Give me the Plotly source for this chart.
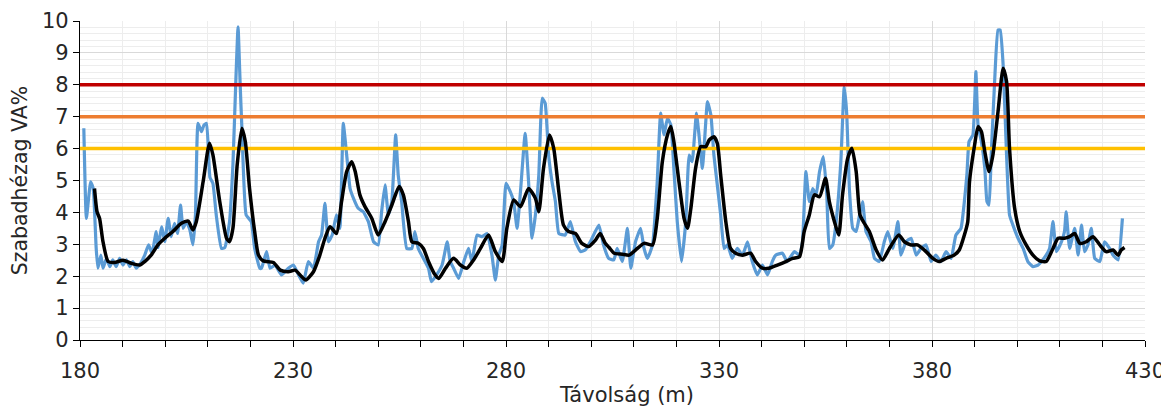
import plotly.graph_objects as go

# Blue (measured) series: distance (m) and clearance (VA%)
blue_x = [180.9, 181.5, 182.5, 183.1, 183.8, 184.2, 184.9, 185.4, 186.2, 187.0, 187.7, 188.5, 189.3, 190.1,
          190.9, 191.7, 192.4, 193.2, 194.2, 195.2, 196.1, 196.9, 197.9, 198.3, 199.2, 199.9, 200.7, 201.4,
          202.2, 202.9, 203.6, 204.2, 205.0, 205.8, 206.5, 207.1, 207.7, 208.5, 209.1, 209.7, 210.5, 211.2,
          212.0, 213.2, 214.0, 215.1, 215.9, 216.6, 217.1, 217.6, 218.0, 219.0, 220.2, 221.0, 222.2, 222.6,
          223.8, 224.6, 225.8, 227.3, 228.9, 230.1, 231.3, 232.4, 233.6, 234.8, 236.0, 236.7, 237.5, 238.3,
          239.2, 240.2, 241.0, 241.8, 242.6, 243.4, 244.2, 245.3, 246.5, 247.7, 248.9, 250.0, 250.8, 251.6,
          252.4, 253.2, 254.1, 254.7, 255.5, 256.7, 257.9, 258.6, 259.4, 260.6, 261.8, 262.5, 263.7, 265.0,
          266.2, 266.9, 267.7, 268.9, 270.1, 271.2, 272.0, 273.2, 274.4, 275.5, 276.7, 277.5, 278.3, 279.1,
          280.0, 281.0, 281.8, 282.6, 283.4, 284.5, 285.3, 286.1, 286.9, 287.7, 288.5, 289.2, 290.0, 290.8,
          291.6, 292.4, 293.9, 295.1, 296.3, 297.5, 298.6, 299.8, 301.8, 302.9, 304.1, 305.3, 306.1, 307.3,
          308.5, 309.3, 310.4, 311.6, 312.4, 313.2, 314.4, 315.5, 316.3, 317.1, 317.9, 318.7, 319.4, 320.2,
          321.2, 322.2, 323.0, 323.7, 324.7, 325.3, 326.1, 326.5, 327.3, 328.1, 328.8, 329.6, 330.4, 331.2,
          332.0, 333.1, 334.3, 335.5, 336.7, 337.8, 339.0, 340.2, 341.4, 342.5, 343.3, 344.9, 346.0, 347.7,
          348.9, 349.6, 350.4, 351.2, 352.0, 352.8, 353.6, 354.5, 355.3, 355.9, 356.7, 357.5, 358.6, 359.4,
          360.0, 360.6, 361.4, 362.2, 363.0, 363.7, 364.5, 365.7, 366.5, 367.6, 368.8, 369.6, 370.8, 372.0,
          372.7, 373.9, 375.1, 376.3, 377.4, 378.6, 379.8, 380.9, 382.1, 383.3, 384.5, 385.6, 386.8, 387.6,
          388.2, 388.7, 389.6, 390.3, 390.8, 391.6, 392.4, 392.9, 393.4, 393.9, 394.7, 395.5, 396.0, 396.7,
          397.5, 398.2, 399.0, 400.2, 401.4, 402.5, 403.7, 404.9, 405.7, 406.8, 407.6, 408.4, 409.2, 410.4,
          411.1, 411.5, 412.3, 413.5, 414.3, 415.1, 415.8, 416.6, 417.4, 418.2, 419.4, 420.5, 421.7, 422.5,
          423.7, 424.7]
blue_y = [6.64, 3.81, 4.96, 4.75, 2.87, 2.25, 2.66, 2.25, 2.56, 2.30, 2.51, 2.30, 2.56, 2.35,
          2.51, 2.30, 2.46, 2.25, 2.40, 2.66, 2.98, 2.72, 3.40, 2.90, 3.55, 3.08, 3.81, 3.24,
          3.66, 3.34, 4.23, 3.50, 3.71, 3.45, 2.98, 3.92, 6.79, 6.53, 6.74, 6.79, 5.10, 4.91,
          3.90, 2.87, 2.90, 3.71, 5.50, 8.20, 9.82, 8.00, 6.64, 3.92, 3.71, 2.87, 2.25, 2.25,
          2.77, 2.25, 2.35, 2.04, 2.25, 2.35, 2.04, 1.78, 2.46, 2.25, 3.08, 3.29, 4.28, 3.08,
          3.29, 3.92, 3.50, 6.79, 5.80, 4.75, 4.44, 4.13, 4.02, 3.71, 3.08, 2.98, 4.02, 4.86,
          3.92, 4.34, 6.43, 5.17, 4.34, 2.87, 2.87, 3.40, 2.87, 2.56, 2.25, 1.83, 2.04, 2.35,
          3.08, 2.46, 2.25, 1.93, 2.46, 2.87, 2.46, 3.29, 3.24, 3.34, 2.66, 1.88, 2.66, 2.98,
          4.91, 4.65, 4.34, 3.50, 4.65, 6.48, 4.96, 3.19, 3.92, 5.17, 7.58, 7.42, 5.80, 4.96,
          4.34, 3.34, 3.29, 3.71, 3.08, 2.77, 2.82, 3.08, 3.60, 2.98, 2.56, 2.51, 2.87, 2.46,
          3.50, 2.25, 3.08, 3.50, 2.87, 2.56, 2.98, 4.96, 7.11, 6.43, 6.95, 6.74, 5.38, 3.71,
          2.46, 3.71, 5.80, 5.59, 7.11, 6.43, 5.38, 6.01, 7.47, 7.05, 5.80, 4.86, 3.92, 2.87,
          2.98, 2.56, 2.87, 2.66, 3.08, 2.46, 2.04, 2.35, 2.04, 2.46, 2.66, 2.72, 2.46, 2.77,
          2.66, 3.08, 5.28, 4.34, 4.75, 4.55, 5.28, 5.75, 4.55, 2.87, 2.98, 3.71, 5.59, 7.94,
          7.05, 4.75, 3.50, 3.40, 3.92, 4.34, 3.40, 3.08, 2.56, 2.46, 3.08, 3.40, 2.87, 3.71,
          2.66, 3.08, 3.19, 2.66, 2.87, 2.98, 2.46, 2.66, 2.46, 2.77, 2.56, 3.29, 3.50, 4.34,
          5.20, 6.22, 6.43, 8.41, 6.74, 6.22, 5.38, 4.34, 4.23, 5.80, 8.10, 9.72, 9.72, 8.62,
          5.80, 3.92, 3.60, 3.19, 2.87, 2.46, 2.30, 2.35, 2.46, 2.66, 2.87, 3.71, 2.77, 3.08,
          3.40, 4.02, 2.87, 3.50, 2.66, 3.60, 2.77, 2.98, 3.50, 2.56, 2.46, 3.08, 2.87, 2.66,
          2.51, 3.81]

# Black (smoothed) series
black_x = [183.4, 184.0, 184.6, 185.4, 186.6, 188.1, 190.1, 192.1, 194.0, 195.2, 196.7, 198.3, 199.9,
           201.8, 203.8, 205.4, 206.5, 207.3, 208.9, 210.4, 211.2, 212.8, 214.4, 215.1, 215.9, 216.9,
           218.0, 218.8, 219.8, 221.0, 221.9, 223.0, 225.4, 227.0, 228.9, 230.5, 232.0, 233.0, 234.8,
           236.3, 237.5, 238.7, 240.2, 241.4, 242.6, 243.8, 244.6, 245.7, 246.9, 248.5, 250.0, 251.6,
           253.2, 254.9, 255.9, 257.1, 257.9, 259.4, 260.6, 261.8, 263.3, 264.2, 265.8, 267.7, 269.3,
           270.8, 272.4, 274.0, 275.9, 277.5, 279.1, 280.2, 281.8, 283.4, 285.3, 286.9, 287.7, 288.8,
           290.2, 291.2, 292.4, 293.5, 294.7, 296.3, 297.8, 299.4, 301.0, 302.1, 303.3, 304.2, 305.4,
           307.3, 308.9, 310.4, 312.4, 314.4, 315.5, 316.7, 317.9, 318.7, 319.4, 320.6, 321.8, 322.6,
           323.4, 324.5, 325.7, 326.9, 327.7, 328.8, 329.6, 330.4, 331.6, 332.7, 333.9, 335.5, 337.4,
           338.6, 340.2, 341.7, 343.7, 345.7, 347.3, 348.9, 350.0, 351.2, 352.4, 353.6, 355.0, 355.9,
           357.1, 358.1, 359.0, 360.2, 361.2, 362.2, 363.1, 364.1, 365.3, 366.9, 368.4, 370.0, 372.2,
           373.5, 375.1, 376.6, 378.6, 380.2, 381.7, 383.3, 385.2, 386.4, 387.6, 388.4, 388.8, 390.0,
           390.8, 391.6, 392.4, 393.4, 394.3, 395.5, 396.7, 397.5, 398.2, 399.4, 400.6, 402.1, 403.7,
           405.3, 406.8, 408.4, 409.6, 411.1, 412.3, 413.5, 414.7, 416.2, 417.8, 419.4, 420.9, 422.5,
           423.7, 424.4, 425.2]
black_y = [4.75, 4.02, 3.81, 3.08, 2.46, 2.43, 2.50, 2.40, 2.35, 2.46, 2.66, 2.98, 3.19,
           3.40, 3.66, 3.73, 3.45, 3.71, 4.96, 6.17, 5.80, 4.34, 3.19, 3.08, 3.50, 5.49,
           6.64, 6.22, 4.75, 3.40, 2.66, 2.48, 2.43, 2.19, 2.14, 2.19, 1.99, 1.88, 2.14,
           2.66, 3.19, 3.55, 3.34, 4.34, 5.28, 5.59, 5.28, 4.55, 4.18, 3.81, 3.29, 3.71,
           4.23, 4.81, 4.55, 3.71, 3.08, 3.03, 2.87, 2.46, 2.05, 1.93, 2.25, 2.56, 2.35,
           2.25, 2.51, 2.87, 3.29, 2.77, 2.46, 3.50, 4.39, 4.18, 4.75, 4.44, 4.02, 5.38,
           6.43, 6.01, 4.65, 3.60, 3.40, 3.34, 3.03, 2.93, 3.13, 3.34, 3.03, 2.90, 2.72,
           2.69, 2.66, 2.82, 3.03, 2.98, 3.81, 5.59, 6.43, 6.69, 6.22, 4.96, 3.81, 3.50,
           4.13, 5.38, 6.06, 6.06, 6.27, 6.37, 6.17, 5.17, 3.71, 2.87, 2.72, 2.66, 2.72,
           2.46, 2.25, 2.25, 2.35, 2.46, 2.56, 2.61, 3.40, 3.92, 4.55, 4.49, 5.07, 4.34,
           3.71, 3.29, 4.55, 5.69, 6.01, 5.28, 3.92, 3.66, 3.40, 2.82, 2.51, 2.87, 3.29,
           3.08, 2.98, 2.98, 2.77, 2.56, 2.46, 2.56, 2.66, 2.82, 3.29, 3.71, 4.96, 6.11,
           6.69, 6.53, 5.90, 5.28, 5.80, 7.16, 8.52, 8.10, 6.01, 4.13, 3.40, 2.98, 2.66,
           2.48, 2.46, 2.87, 3.19, 3.19, 3.24, 3.34, 3.03, 3.08, 3.24, 2.98, 2.77, 2.82,
           2.66, 2.82, 2.90]

# Limit lines
limit_values = [6, 7, 8]
limit_colors = ["#FFC000", "#ED7D31", "#C00000"]
x_range = [180, 430]

x_title = "Távolság (m)"
y_title = "Szabadhézag VA%"

font_family = "DejaVu Sans, Liberation Sans, Arial"

fig = go.Figure()
fig.add_trace(go.Scatter(x=blue_x, y=blue_y, mode="lines",
                         line=dict(color="#5B9BD5", width=3.2, shape="spline", smoothing=0.4),
                         showlegend=False))
for v, c in zip(limit_values, limit_colors):
    fig.add_trace(go.Scatter(x=x_range, y=[v, v], mode="lines",
                             line=dict(color=c, width=3.5), showlegend=False))
fig.add_trace(go.Scatter(x=black_x, y=black_y, mode="lines",
                         line=dict(color="#000000", width=3.5, shape="spline", smoothing=0.6),
                         showlegend=False))

# The page body adds an 8 px offset; the figure is sized so the plot area lands where the reference has it.
fig.update_layout(
    width=1161, height=400,
    margin=dict(l=72, r=24, t=13, b=68, autoexpand=False),
    paper_bgcolor="white", plot_bgcolor="white",
    font=dict(family=font_family, size=20, color="#262626"),
    showlegend=False,
)
fig.update_xaxes(
    range=x_range, tick0=180, dtick=50, automargin=False,
    ticks="outside", ticklen=6, tickwidth=1.3, tickcolor="#000000",
    ticklabelstandoff=6,
    showline=True, linecolor="#000000", linewidth=1.3,
    showgrid=True, gridcolor="#D9D9D9", gridwidth=1,
    zeroline=False,
    minor=dict(dtick=10, ticks="outside", ticklen=6, tickwidth=1.3, tickcolor="#000000",
               showgrid=True, gridcolor="#EDEDED", gridwidth=1),
    tickfont=dict(size=21),
)
fig.update_yaxes(
    range=[0, 10], tick0=0, dtick=1, automargin=False,
    ticks="outside", ticklen=6, tickwidth=1.3, tickcolor="#000000",
    showline=True, linecolor="#000000", linewidth=1.3,
    showgrid=True, gridcolor="#D9D9D9", gridwidth=1,
    zeroline=False,
    minor=dict(dtick=0.2, showgrid=True, gridcolor="#EDEDED", gridwidth=1),
    title=dict(text=y_title, font=dict(size=20.5), standoff=10),
    tickfont=dict(size=21),
)
# x-axis title placed slightly right of centre, as in the reference
fig.add_annotation(text=x_title, xref="paper", yref="paper", x=0.513, y=-0.172,
                   xanchor="center", yanchor="middle", showarrow=False,
                   font=dict(size=21, family=font_family, color="#262626"))

fig.write_html("out.html")
